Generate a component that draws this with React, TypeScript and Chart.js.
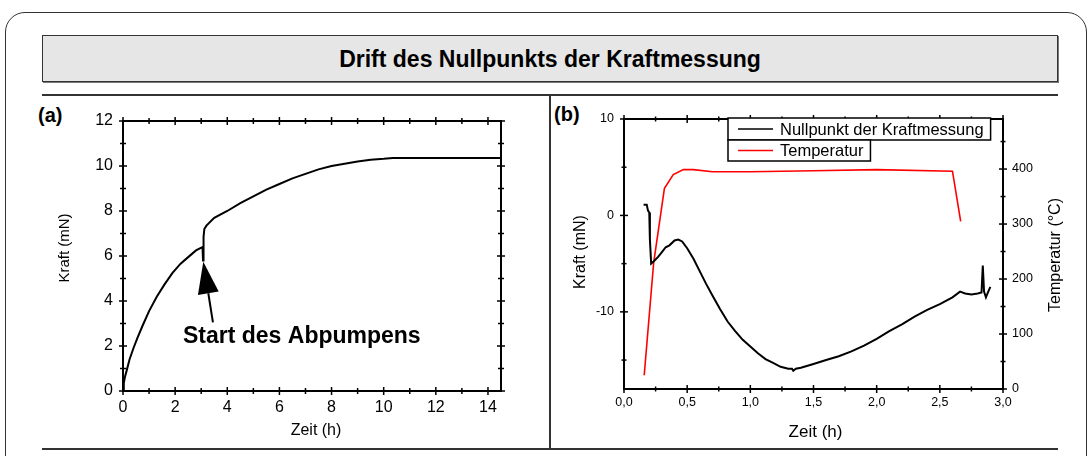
import React, { useEffect, useRef } from "react";
import { Chart, registerables } from "chart.js";

Chart.register(...registerables);

const FONT = "'Liberation Sans', Arial, Helvetica, sans-serif";

// ---------- Panel (a) ----------
const kraftZeit = [
  0, 0.03, 0.08, 0.15, 0.25, 0.4, 0.55, 0.75, 1.0, 1.3, 1.6, 1.9, 2.2, 2.5, 2.8, 3.05,
  3.07, 3.09, 3.12, 3.2, 3.5, 4.0, 4.5, 5.0, 5.5, 6.0, 6.5, 7.0, 7.5, 8.0, 8.5, 9.0,
  9.5, 10.0, 10.35, 14.5,
];
const kraftWerte = [
  0, 0.35, 0.65, 0.95, 1.4, 1.9, 2.35, 2.9, 3.55, 4.2, 4.75, 5.25, 5.65, 5.95, 6.25, 6.4,
  5.8, 6.85, 7.2, 7.35, 7.7, 8.0, 8.35, 8.65, 8.95, 9.2, 9.45, 9.65, 9.85, 10.0, 10.1, 10.2,
  10.28, 10.32, 10.36, 10.36,
];
const aXTicks = [0, 2, 4, 6, 8, 10, 12, 14];
const aXMinor = [1, 3, 5, 7, 9, 11, 13];
const aYTicks = [0, 2, 4, 6, 8, 10, 12];
const aYMinor = [1, 3, 5, 7, 9, 11];
const arrowTip = [3.08, 5.75];
const arrowTail = [3.45, 3.05];
const noteAnchor = [2.3, 2.13];
const noteText = "Start des Abpumpens";

// ---------- Panel (b) ----------
const nullZeit = [
  0.155, 0.18, 0.19, 0.2, 0.205, 0.215, 0.24, 0.27, 0.3, 0.33, 0.36, 0.4, 0.43, 0.46,
  0.5, 0.55, 0.6, 0.65, 0.7, 0.76, 0.82, 0.88, 0.94, 1.0, 1.06, 1.12, 1.18, 1.24, 1.3,
  1.33, 1.34, 1.36, 1.4, 1.5, 1.6, 1.7, 1.8, 1.9, 2.0, 2.1, 2.2, 2.3, 2.4, 2.5, 2.6,
  2.66, 2.7, 2.75, 2.8, 2.83, 2.84, 2.85, 2.865, 2.88, 2.9,
];
const nullWerte = [
  1.1, 1.1, 0.5, 0.3, -2.5, -5.0, -4.7, -4.3, -3.8, -3.3, -3.1, -2.6, -2.5, -2.7,
  -3.4, -4.5, -5.8, -7.1, -8.3, -9.7, -11.0, -12.0, -12.9, -13.6, -14.3, -14.9, -15.3, -15.7, -15.9,
  -15.9, -16.1, -15.9, -15.8, -15.4, -15.0, -14.6, -14.1, -13.5, -12.8, -12.0, -11.3, -10.5, -9.8, -9.2, -8.5,
  -7.9, -8.1, -8.2, -8.1, -8.0, -5.2, -7.9, -8.5, -8.0, -7.4,
];
const tempZeit = [0.16, 0.235, 0.32, 0.39, 0.47, 0.55, 0.7, 1.0, 1.5, 2.0, 2.6, 2.665];
const tempWerte = [25, 230, 365, 390, 399, 399, 395, 395, 397, 399, 396, 305];
const bXTicks = [0, 0.5, 1, 1.5, 2, 2.5, 3];
const bXMinor = [0.25, 0.75, 1.25, 1.75, 2.25, 2.75];
const bYTicks = [-10, 0, 10];
const bYMinor = [-15, -5, 5];
const tempTicks = [0, 100, 200, 300, 400];
const tempMinor = [50, 150, 250, 350, 450];
const seriesNames = ["Nullpunkt der Kraftmessung", "Temperatur"];

const toPoints = (xs: number[], ys: number[]) => xs.map((x, i) => ({ x, y: ys[i] }));

// ---------- plugins ----------
const framePlugin = {
  id: "frame",
  afterDatasetsDraw(chart: any, _a: any, o: any) {
    const { ctx, chartArea: ca, scales } = chart;
    ctx.save();
    ctx.strokeStyle = "#000";
    ctx.lineWidth = 2;
    ctx.strokeRect(ca.left, ca.top, ca.right - ca.left, ca.bottom - ca.top);
    ctx.lineWidth = 1.5;
    const seg = (x1: number, y1: number, x2: number, y2: number) => {
      ctx.beginPath();
      ctx.moveTo(x1, y1);
      ctx.lineTo(x2, y2);
      ctx.stroke();
    };
    const hx = (vals: number[], len: number) => {
      vals.forEach((v) => {
        const p = scales.x.getPixelForValue(v);
        seg(p, ca.bottom - len, p, ca.bottom + len);
        seg(p, ca.top - len, p, ca.top + len);
      });
    };
    const vy = (scaleId: string, side: "left" | "right", vals: number[], len: number) => {
      const s = scales[scaleId];
      const x0 = side === "left" ? ca.left : ca.right;
      vals.forEach((v) => {
        const p = s.getPixelForValue(v);
        seg(x0 - len, p, x0 + len, p);
      });
    };
    hx(o.xMajor, o.majorLen);
    hx(o.xMinor, o.minorLen);
    vy(o.leftId, "left", o.leftMajor, o.majorLen);
    vy(o.leftId, "left", o.leftMinor, o.minorLen);
    vy(o.rightId, "right", o.rightMajor, o.majorLen);
    vy(o.rightId, "right", o.rightMinor, o.minorLen);
    ctx.restore();
  },
};

const titlesPlugin = {
  id: "axisTitles",
  afterDraw(chart: any, _a: any, o: any) {
    const { ctx, chartArea: ca } = chart;
    const cx = (ca.left + ca.right) / 2;
    const cy = (ca.top + ca.bottom) / 2;
    ctx.save();
    ctx.fillStyle = "#000";
    ctx.textAlign = "center";
    ctx.textBaseline = "middle";
    (o.items || []).forEach((it: any) => {
      ctx.font = it.font;
      ctx.save();
      if (it.ref === "bottom") {
        ctx.translate(cx + it.shift, ca.bottom + it.off);
      } else {
        const x0 = it.ref === "left" ? ca.left : ca.right;
        ctx.translate(x0 + it.off, cy + it.shift);
        ctx.rotate(-Math.PI / 2);
      }
      ctx.fillText(it.text, 0, 0);
      ctx.restore();
    });
    ctx.restore();
  },
};

const arrowPlugin = {
  id: "arrowNote",
  afterDatasetsDraw(chart: any, _a: any, o: any) {
    if (!o.tip) return;
    const { ctx, scales } = chart;
    const tx = scales.x.getPixelForValue(o.tip[0]);
    const ty = scales.y.getPixelForValue(o.tip[1]);
    const sx = scales.x.getPixelForValue(o.tail[0]);
    const sy = scales.y.getPixelForValue(o.tail[1]);
    const ang = Math.atan2(ty - sy, tx - sx);
    const c = Math.cos(ang);
    const s = Math.sin(ang);
    const headLen = 32;
    const headW = 10.5;
    const bx = tx - headLen * c;
    const by = ty - headLen * s;
    ctx.save();
    ctx.strokeStyle = "#000";
    ctx.fillStyle = "#000";
    ctx.lineWidth = 2;
    ctx.beginPath();
    ctx.moveTo(sx, sy);
    ctx.lineTo(bx, by);
    ctx.stroke();
    ctx.beginPath();
    ctx.moveTo(tx, ty);
    ctx.lineTo(bx + headW * s, by - headW * c);
    ctx.lineTo(bx - headW * s, by + headW * c);
    ctx.closePath();
    ctx.fill();
    ctx.font = `bold 23px ${FONT}`;
    ctx.textAlign = "left";
    ctx.textBaseline = "alphabetic";
    ctx.fillText(o.text, scales.x.getPixelForValue(o.anchor[0]), scales.y.getPixelForValue(o.anchor[1]));
    ctx.restore();
  },
};

const legendPlugin = {
  id: "boxLegend",
  afterDraw(chart: any, _a: any, o: any) {
    if (!o.rows) return;
    const { ctx, chartArea: ca } = chart;
    ctx.save();
    ctx.font = o.font;
    let y = ca.top + o.dy;
    const x = ca.left + o.dx;
    o.rows.forEach((r: any) => {
      const w = 52 + ctx.measureText(r.label).width + 7;
      ctx.fillStyle = "#fff";
      ctx.fillRect(x, y, w, r.h);
      ctx.strokeStyle = "#000";
      ctx.lineWidth = 1.5;
      ctx.strokeRect(x, y, w, r.h);
      ctx.strokeStyle = r.color;
      ctx.lineWidth = 1.5;
      ctx.beginPath();
      ctx.moveTo(x + 10, y + r.h / 2);
      ctx.lineTo(x + 45, y + r.h / 2);
      ctx.stroke();
      ctx.fillStyle = "#000";
      ctx.textAlign = "left";
      ctx.textBaseline = "middle";
      ctx.fillText(r.label, x + 52, y + r.h / 2 + 1);
      y += r.h;
    });
    ctx.restore();
  },
};

const tickSetter = (vals: number[]) => (s: any) => {
  s.ticks = vals.map((v) => ({ value: v }));
};

function ChartBox({ config, left, top, w, h }: any) {
  const ref = useRef<HTMLCanvasElement>(null);
  useEffect(() => {
    const c = new Chart(ref.current as HTMLCanvasElement, config);
    return () => c.destroy();
  }, []);
  return (
    <canvas
      ref={ref}
      width={w}
      height={h}
      style={{ position: "absolute", left, top, width: w, height: h }}
    />
  );
}

const configA: any = {
  type: "line",
  data: {
    datasets: [
      {
        data: toPoints(kraftZeit, kraftWerte),
        borderColor: "#000",
        borderWidth: 2,
        pointRadius: 0,
        tension: 0,
      },
    ],
  },
  plugins: [framePlugin, titlesPlugin, arrowPlugin],
  options: {
    responsive: false,
    animation: false,
    layout: { padding: { top: 25, right: 48, left: 0, bottom: 0 } },
    plugins: {
      legend: { display: false },
      tooltip: { enabled: false },
      frame: {
        xMajor: aXTicks, xMinor: aXMinor,
        leftId: "y", leftMajor: aYTicks, leftMinor: aYMinor,
        rightId: "y", rightMajor: aYTicks, rightMinor: aYMinor,
        majorLen: 4, minorLen: 3,
      },
      axisTitles: {
        items: [
          { text: "Kraft (mN)", ref: "left", off: -58, shift: -8, font: `15px ${FONT}` },
          { text: "Zeit (h)", ref: "bottom", off: 40, shift: 4, font: `16px ${FONT}` },
        ],
      },
      arrowNote: { tip: arrowTip, tail: arrowTail, anchor: noteAnchor, text: noteText },
    },
    scales: {
      x: {
        type: "linear",
        min: 0,
        max: 14.5,
        afterBuildTicks: tickSetter(aXTicks),
        afterFit: (s: any) => { s.height = 57; },
        ticks: { font: { family: FONT, size: 16 }, color: "#000", padding: 7, maxRotation: 0, autoSkip: false },
        grid: { display: false, drawTicks: false },
        border: { display: false },
      },
      y: {
        type: "linear",
        min: 0,
        max: 12,
        afterBuildTicks: tickSetter(aYTicks),
        afterFit: (s: any) => { s.width = 81; },
        ticks: { font: { family: FONT, size: 16 }, color: "#000", padding: 10, autoSkip: false },
        grid: { display: false, drawTicks: false },
        border: { display: false },
      },
    },
  },
};

const configB: any = {
  type: "line",
  data: {
    datasets: [
      {
        label: seriesNames[0],
        data: toPoints(nullZeit, nullWerte),
        borderColor: "#000",
        borderWidth: 2,
        pointRadius: 0,
        tension: 0,
        yAxisID: "y",
      },
      {
        label: seriesNames[1],
        data: toPoints(tempZeit, tempWerte),
        borderColor: "#ff0000",
        borderWidth: 1.6,
        pointRadius: 0,
        tension: 0,
        yAxisID: "y2",
      },
    ],
  },
  plugins: [framePlugin, titlesPlugin, legendPlugin],
  options: {
    responsive: false,
    animation: false,
    layout: { padding: { top: 23, right: 0, left: 0, bottom: 0 } },
    plugins: {
      legend: { display: false },
      tooltip: { enabled: false },
      frame: {
        xMajor: bXTicks, xMinor: bXMinor,
        leftId: "y", leftMajor: bYTicks, leftMinor: bYMinor,
        rightId: "y2", rightMajor: tempTicks, rightMinor: tempMinor,
        majorLen: 4, minorLen: 2.5,
      },
      axisTitles: {
        items: [
          { text: "Kraft (mN)", ref: "left", off: -43, shift: -2, font: `16px ${FONT}` },
          { text: "Zeit (h)", ref: "bottom", off: 43, shift: 2, font: `17px ${FONT}` },
          { text: "Temperatur (°C)", ref: "right", off: 53, shift: 1, font: `16px ${FONT}` },
        ],
      },
      boxLegend: {
        dx: 104,
        dy: -1,
        font: `16.5px ${FONT}`,
        rows: [
          { label: seriesNames[0], color: "#000", h: 22 },
          { label: seriesNames[1], color: "#ff0000", h: 21 },
        ],
      },
    },
    scales: {
      x: {
        type: "linear",
        min: 0,
        max: 3,
        afterBuildTicks: tickSetter(bXTicks),
        afterFit: (s: any) => { s.height = 59; },
        ticks: {
          font: { family: FONT, size: 12.5 },
          color: "#000",
          padding: 6,
          maxRotation: 0,
          autoSkip: false,
          callback: (v: any) => Number(v).toFixed(1).replace(".", ","),
        },
        grid: { display: false, drawTicks: false },
        border: { display: false },
      },
      y: {
        type: "linear",
        position: "left",
        min: -18,
        max: 10,
        afterBuildTicks: tickSetter(bYTicks),
        afterFit: (s: any) => { s.width = 73; },
        ticks: { font: { family: FONT, size: 12.5 }, color: "#000", padding: 10, autoSkip: false },
        grid: { display: false, drawTicks: false },
        border: { display: false },
      },
      y2: {
        type: "linear",
        position: "right",
        min: 0,
        max: 491,
        afterBuildTicks: tickSetter(tempTicks),
        afterFit: (s: any) => { s.width = 84; },
        ticks: { font: { family: FONT, size: 12.5 }, color: "#000", padding: 9, autoSkip: false },
        grid: { display: false, drawTicks: false },
        border: { display: false },
      },
    },
  },
};

export default function App() {
  const line = "#333";
  return (
    <div
      style={{
        position: "absolute",
        left: 0,
        top: 0,
        width: 1091,
        height: 456,
        overflow: "hidden",
        background: "#fff",
        fontFamily: FONT,
      }}
    >
      <div
        style={{
          position: "absolute",
          left: 5,
          top: 12,
          width: 1082,
          height: 470,
          border: `1.5px solid ${line}`,
          borderRadius: 20,
          boxSizing: "border-box",
        }}
      />
      <div
        style={{
          position: "absolute",
          left: 42,
          top: 35,
          width: 1016,
          height: 47,
          background: "#e6e6e6",
          border: `1.5px solid ${line}`,
          boxShadow: "1px 1px 0 #777",
          boxSizing: "border-box",
          textAlign: "center",
          lineHeight: "46px",
          fontWeight: "bold",
          fontSize: 23,
          color: "#000",
        }}
      >
        Drift des Nullpunkts der Kraftmessung
      </div>
      <div style={{ position: "absolute", left: 42, top: 94, width: 1016, height: 2, background: line }} />
      <div style={{ position: "absolute", left: 42, top: 448, width: 1016, height: 2, background: line }} />
      <div style={{ position: "absolute", left: 549, top: 95, width: 1.5, height: 354, background: line }} />
      <div style={{ position: "absolute", left: 38, top: 104, fontWeight: "bold", fontSize: 20, lineHeight: "22px" }}>(a)</div>
      <div style={{ position: "absolute", left: 554, top: 103, fontWeight: "bold", fontSize: 20, lineHeight: "22px" }}>(b)</div>
      <ChartBox config={configA} left={42} top={96} w={507} h={352} />
      <ChartBox config={configB} left={551} top={96} w={536} h={352} />
    </div>
  );
}
